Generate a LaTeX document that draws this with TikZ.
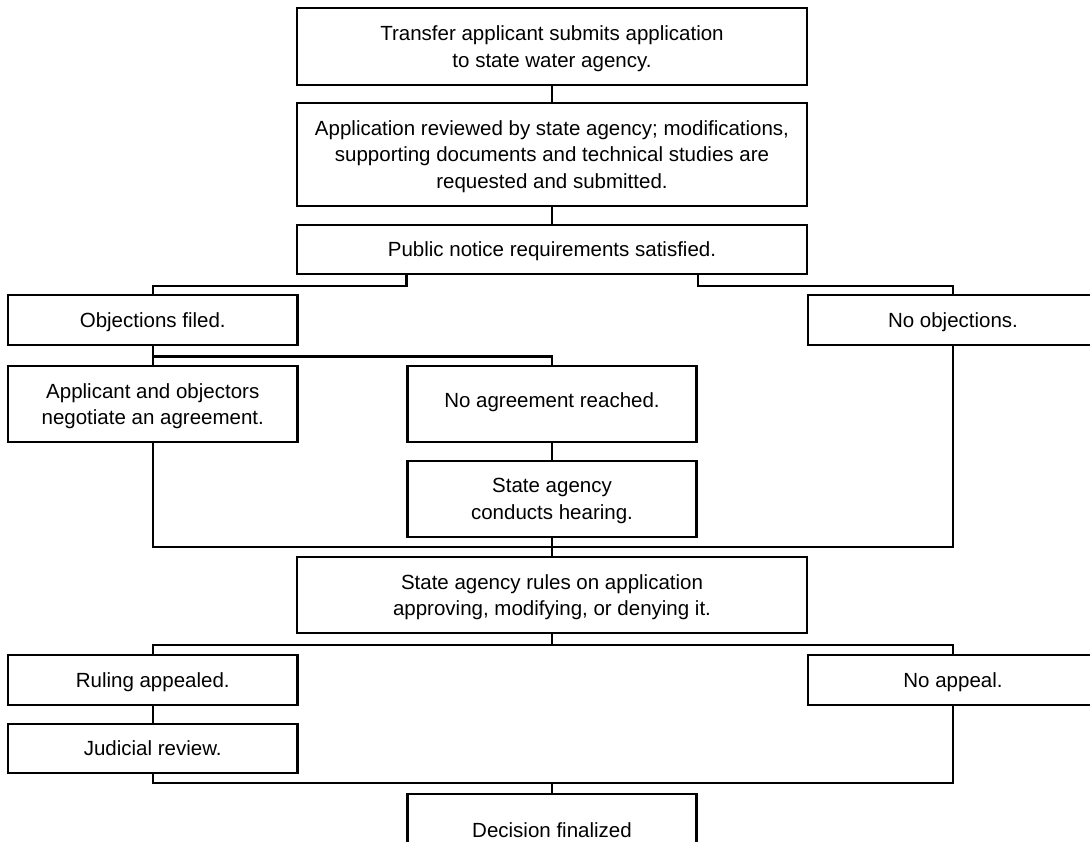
\documentclass[tikz,border=0pt]{standalone}
\usepackage{fontspec}
\setmainfont{Liberation Sans}
\usetikzlibrary{calc}
\tikzset{
  box/.style={draw=black, line width=2.2pt, rectangle, inner sep=0pt, align=center,
    text depth=0pt, font=\fontsize{20.5}{26.7}\selectfont},
  link/.style={draw=black, line width=2.2pt}
}
\begin{document}
\begin{tikzpicture}[x=1pt,y=-1pt]
\useasboundingbox (0,0) rectangle (1090,841);
\fill[white] (0,0) rectangle (1090,841);
\begin{scope}
\clip (0,0) rectangle (1090,841);
% boxes
\node[box, minimum width=510pt, minimum height=77pt] (A) at (552,46.5) {Transfer applicant submits application\\to state water agency.};
\node[box, minimum width=510pt, minimum height=103pt] (B) at (552,154.5) {Application reviewed by state agency; modifications,\\supporting documents and technical studies are\\requested and submitted.};
\node[box, minimum width=510pt, minimum height=49pt] (C) at (552,249.5) {Public notice requirements satisfied.};
\node[box, minimum width=289.5pt, minimum height=50pt] (D) at (152.75,320) {Objections filed.};
\node[box, minimum width=290pt, minimum height=50pt] (E) at (953,320) {No objections.};
\node[box, minimum width=289.5pt, minimum height=76pt] (F) at (152.75,404) {Applicant and objectors\\negotiate an agreement.};
\node[box, minimum width=289pt, minimum height=76pt] (G) at (552,404) {};
\node[font=\fontsize{20.5}{26.7}\selectfont, text depth=0pt] (Gt) at (552,400) {No agreement reached.};
\node[box, minimum width=289pt, minimum height=76pt] (H) at (552,499) {State agency\\conducts hearing.};
\node[box, minimum width=510pt, minimum height=76pt] (I) at (552,595) {State agency rules on application\\approving, modifying, or denying it.};
\node[box, minimum width=289.5pt, minimum height=50pt] (J) at (152.75,680) {Ruling appealed.};
\node[box, minimum width=290pt, minimum height=50pt] (K) at (953,680) {No appeal.};
\node[box, minimum width=289.5pt, minimum height=49pt] (L) at (152.75,748.5) {Judicial review.};
\node[box, minimum width=289pt, minimum height=72pt] (M) at (552,830) {Decision finalized};
% connectors
\coordinate (m1) at (552,547.3);
\coordinate (m2) at (552,645);
\coordinate (m3) at (552,783.3);
\draw[link] (A.south) -- (B.north);
\draw[link] (B.south) -- (C.north);
\draw[link] (C.south -| G.west) -- ++(0,11) -| (D.north);
\draw[link] (C.south -| G.east) -- ++(0,11) -| (E.north);
\draw[link] (D.south) -- (F.north);
\draw[link] (D.south) -- ++(0,10.3) -| (G.north);
\draw[link] (G.south) -- (H.north);
\draw[link] (F.south) |- (m1) -| (E.south);
\draw[link] (H.south) -- (I.north);
\draw[link] (I.south) -- (m2);
\draw[link] (J.north) |- (m2) -| (K.north);
\draw[link] (J.south) -- (L.north);
\draw[link] (L.south) |- (m3) -| (K.south);
\draw[link] (m3) -- (M.north);
\end{scope}
\end{tikzpicture}
\end{document}
